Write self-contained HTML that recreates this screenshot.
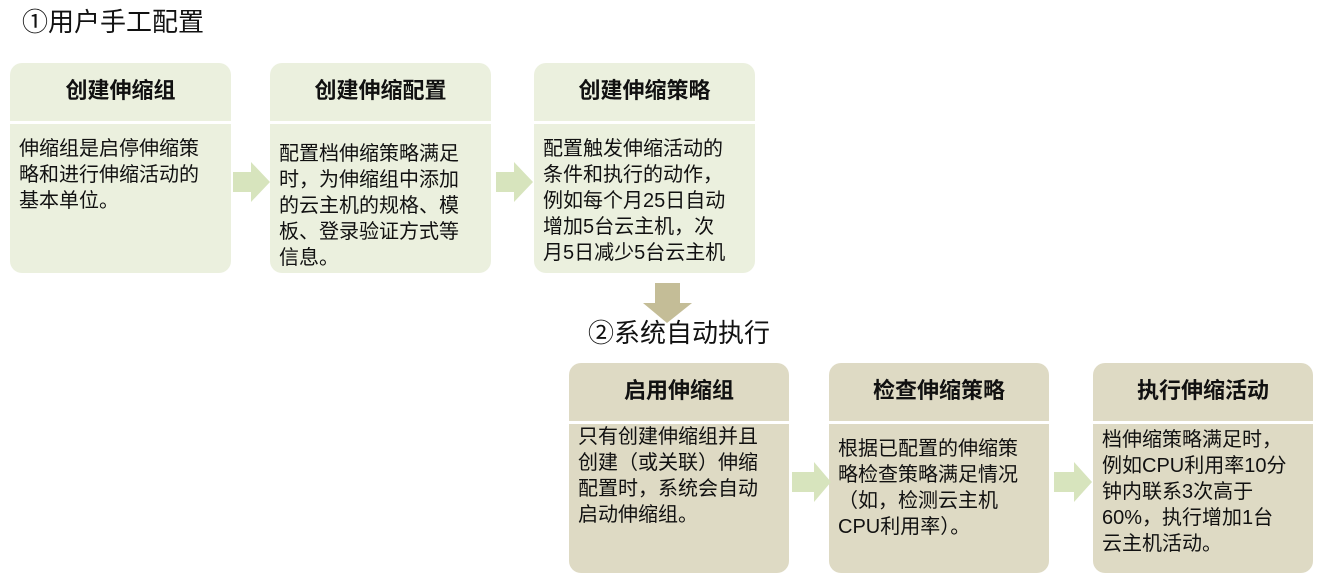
<!DOCTYPE html>
<html><head><meta charset="utf-8"><style>
body{margin:0;width:1334px;height:581px;background:#fff;position:relative;overflow:hidden;font-family:"Liberation Sans","Noto Sans CJK SC",sans-serif;color:#111}
.b{position:absolute;width:221px;height:210px;border-radius:12px;overflow:hidden}
.g{background:#ebf0de}.t{background:#dedac4}
.h{position:absolute;left:0;right:0;top:0;height:58px;line-height:56px;text-align:center;font-weight:bold;font-size:22px;border-bottom:3px solid #fff}
.c{position:absolute;left:9px;font-size:20px;line-height:26px;white-space:nowrap}
.lab{position:absolute;font-size:26px;line-height:30px;white-space:nowrap}
svg{position:absolute;left:0;top:0}
</style></head><body>
<div class="lab" style="left:22px;top:7px">①用户手工配置</div>
<div class="b g" style="left:10px;top:63px"><div class="h">创建伸缩组</div><div class="c" style="top:73px">伸缩组是启停伸缩策<br>略和进行伸缩活动的<br>基本单位。</div></div>
<div class="b g" style="left:270px;top:63px"><div class="h">创建伸缩配置</div><div class="c" style="top:78px">配置档伸缩策略满足<br>时，为伸缩组中添加<br>的云主机的规格、模<br>板、登录验证方式等<br>信息。</div></div>
<div class="b g" style="left:534px;top:63px"><div class="h">创建伸缩策略</div><div class="c" style="top:73px">配置触发伸缩活动的<br>条件和执行的动作，<br>例如每个月25日自动<br>增加5台云主机，次<br>月5日减少5台云主机</div></div>
<div class="lab" style="left:588px;top:318px">②系统自动执行</div>
<div class="b t" style="left:569px;top:363px;width:220px"><div class="h">启用伸缩组</div><div class="c" style="top:61px">只有创建伸缩组并且<br>创建（或关联）伸缩<br>配置时，系统会自动<br>启动伸缩组。</div></div>
<div class="b t" style="left:829px;top:363px;width:220px"><div class="h">检查伸缩策略</div><div class="c" style="top:73px">根据已配置的伸缩策<br>略检查策略满足情况<br>（如，检测云主机<br>CPU利用率）。</div></div>
<div class="b t" style="left:1093px;top:363px;width:220px"><div class="h">执行伸缩活动</div><div class="c" style="top:64px">档伸缩策略满足时，<br>例如CPU利用率10分<br>钟内联系3次高于<br>60%，执行增加1台<br>云主机活动。</div></div>
<svg width="1334" height="581">
<polygon fill="#d7e4bd" points="233,172 251,172 251,162 270,182 251,202 251,192 233,192"/>
<polygon fill="#d7e4bd" points="496,172 514,172 514,162 533,182 514,202 514,192 496,192"/>
<polygon fill="#d7e4bd" points="792,472 814,472 814,462 831,482 814,502 814,492 792,492"/>
<polygon fill="#d7e4bd" points="1054,472 1074,472 1074,462 1092,482 1074,502 1074,492 1054,492"/>
<polygon fill="#c4bd97" points="655,283 680,283 680,303 692,303 667,323 643,303 655,303"/>
</svg>
</body></html>
